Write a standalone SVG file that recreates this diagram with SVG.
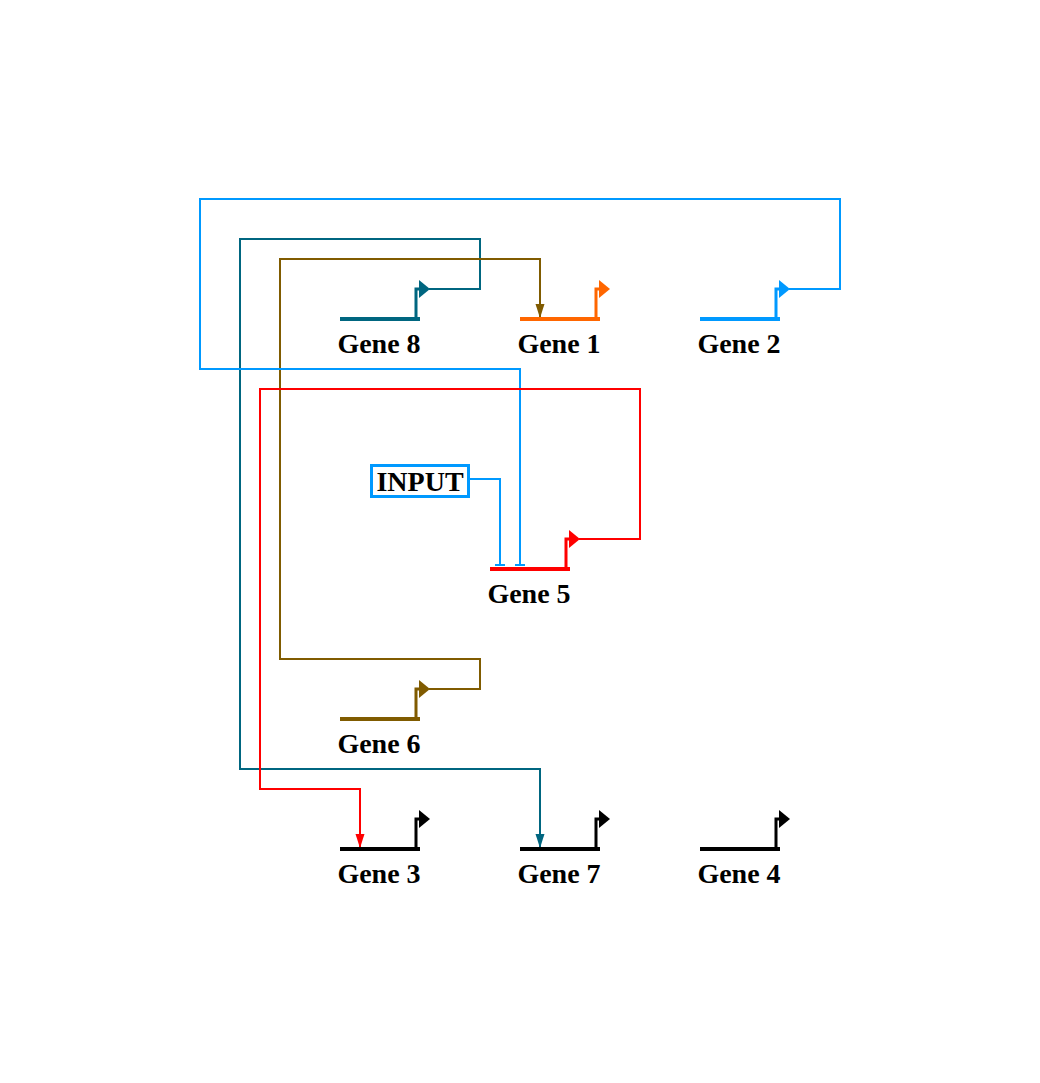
<svg xmlns="http://www.w3.org/2000/svg" width="1040" height="1083" viewBox="0 0 1040 1083">
<defs>
<style>
.lbl{font-family:"Liberation Serif","Times New Roman",serif;font-weight:bold;font-size:28px;fill:#000;text-anchor:middle}
.gene{stroke-width:4;fill:none}
.prom{stroke-width:3;fill:none}
.conn{stroke-width:2;fill:none}
</style>
<marker id="arTeal" markerUnits="userSpaceOnUse" markerWidth="10" markerHeight="15" refX="5" refY="14" orient="0" viewBox="0 0 10 15"><path d="M0.5,0 L9.5,0 L5,14 Z" fill="#006680"/></marker>
<marker id="arBrown" markerUnits="userSpaceOnUse" markerWidth="10" markerHeight="15" refX="5" refY="14" orient="0" viewBox="0 0 10 15"><path d="M0.5,0 L9.5,0 L5,14 Z" fill="#805b00"/></marker>
<marker id="arRed" markerUnits="userSpaceOnUse" markerWidth="10" markerHeight="15" refX="5" refY="14" orient="0" viewBox="0 0 10 15"><path d="M0.5,0 L9.5,0 L5,14 Z" fill="#ff0000"/></marker>
<marker id="tBlue" markerUnits="userSpaceOnUse" markerWidth="12" markerHeight="4" refX="6" refY="2" orient="0" viewBox="0 0 12 4"><rect x="1" y="1" width="10" height="2" fill="#0099ff"/></marker>
</defs>

<g id="connectors">
<path class="conn" stroke="#006680" d="M429,289 H480 V239 H240 V769 H540 V848" marker-end="url(#arTeal)"/>
<path class="conn" stroke="#805b00" d="M429,689 H480 V659 H280 V259 H540 V318" marker-end="url(#arBrown)"/>
<path class="conn" stroke="#0099ff" d="M789,289 H840 V199 H200 V369 H520 V565" marker-end="url(#tBlue)"/>
<path class="conn" stroke="#ff0000" d="M579,539 H640 V389 H260 V789 H360 V848" marker-end="url(#arRed)"/>
<path class="conn" stroke="#0099ff" d="M469,479 H500 V565" marker-end="url(#tBlue)"/>
</g>

<g id="gene8">
<path class="gene" stroke="#006680" d="M340,319 H420"/>
<path class="prom" stroke="#006680" d="M416,320 V289 H421"/>
<polygon fill="#006680" points="419,280 430,289 419,298"/>
<text class="lbl" x="379" y="353">Gene 8</text>
</g>
<g id="gene1">
<path class="gene" stroke="#ff6600" d="M520,319 H600"/>
<path class="prom" stroke="#ff6600" d="M596,320 V289 H601"/>
<polygon fill="#ff6600" points="599,280 610,289 599,298"/>
<text class="lbl" x="559" y="353">Gene 1</text>
</g>
<g id="gene2">
<path class="gene" stroke="#0099ff" d="M700,319 H780"/>
<path class="prom" stroke="#0099ff" d="M776,320 V289 H781"/>
<polygon fill="#0099ff" points="779,280 790,289 779,298"/>
<text class="lbl" x="739" y="353">Gene 2</text>
</g>
<g id="input">
<rect x="371.5" y="465.5" width="97" height="31" fill="#fff" stroke="#0099ff" stroke-width="3"/>
<text class="lbl" x="420" y="491">INPUT</text>
</g>
<g id="gene5">
<path class="gene" stroke="#ff0000" d="M490,569 H570"/>
<path class="prom" stroke="#ff0000" d="M566,570 V539 H571"/>
<polygon fill="#ff0000" points="569,530 580,539 569,548"/>
<text class="lbl" x="529" y="603">Gene 5</text>
</g>
<g id="gene6">
<path class="gene" stroke="#805b00" d="M340,719 H420"/>
<path class="prom" stroke="#805b00" d="M416,720 V689 H421"/>
<polygon fill="#805b00" points="419,680 430,689 419,698"/>
<text class="lbl" x="379" y="753">Gene 6</text>
</g>
<g id="gene3">
<path class="gene" stroke="#000" d="M340,849 H420"/>
<path class="prom" stroke="#000" d="M416,850 V819 H421"/>
<polygon fill="#000" points="419,810 430,819 419,828"/>
<text class="lbl" x="379" y="883">Gene 3</text>
</g>
<g id="gene7">
<path class="gene" stroke="#000" d="M520,849 H600"/>
<path class="prom" stroke="#000" d="M596,850 V819 H601"/>
<polygon fill="#000" points="599,810 610,819 599,828"/>
<text class="lbl" x="559" y="883">Gene 7</text>
</g>
<g id="gene4">
<path class="gene" stroke="#000" d="M700,849 H780"/>
<path class="prom" stroke="#000" d="M776,850 V819 H781"/>
<polygon fill="#000" points="779,810 790,819 779,828"/>
<text class="lbl" x="739" y="883">Gene 4</text>
</g>
</svg>
